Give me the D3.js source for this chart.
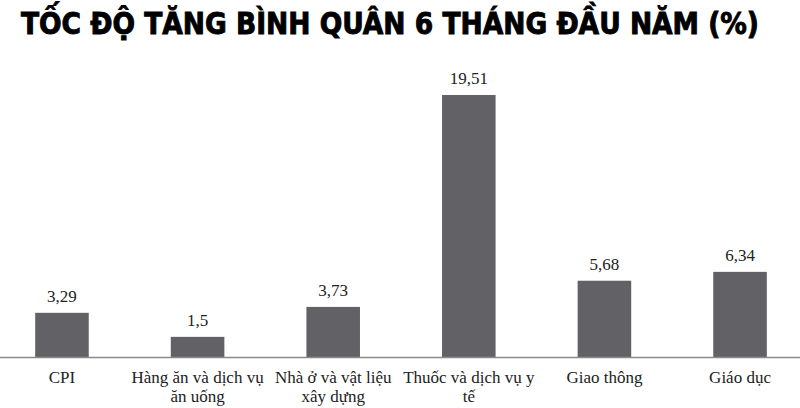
<!DOCTYPE html>
<html>
<head>
<meta charset="utf-8">
<script src="https://cdn.jsdelivr.net/npm/d3@7"></script>
<style>
  html, body { margin: 0; padding: 0; background: #fff; }
  svg { display: block; }
  .serif { font-family: 'Liberation Serif', 'Times New Roman', Times, 'DejaVu Serif', serif; }
</style>
</head>
<body>
<svg id="chart" width="800" height="408"></svg>
<script>
  'use strict';

  var title = 'TỐC ĐỘ TĂNG BÌNH QUÂN 6 THÁNG ĐẦU NĂM (%)';
  var categories = [
    'CPI',
    'Hàng ăn và dịch vụ ăn uống',
    'Nhà ở và vật liệu xây dựng',
    'Thuốc và dịch vụ y tế',
    'Giao thông',
    'Giáo dục'
  ];
  var values = [3.29, 1.5, 3.73, 19.51, 5.68, 6.34];
  var valueLabels = ['3,29', '1,5', '3,73', '19,51', '5,68', '6,34'];

  var baseline = 357;
  var plotTop = 95;

  var $svg = d3.select('#chart');

  // heavy condensed title, squeezed to the reference width
  $svg.append('text')
    .attr('x', 21)
    .attr('y', 34)
    .attr('textLength', 738)
    .attr('lengthAdjust', 'spacingAndGlyphs')
    .style('font-family', '"DejaVu Sans Condensed", "DejaVu Sans", sans-serif')
    .style('font-weight', 'bold')
    .style('font-size', '31px')
    .style('fill', '#000')
    .style('stroke', '#000')
    .style('stroke-width', 0.9)
    .text(title);

  var x = d3.scaleBand()
    .domain(categories)
    .range([-5.5, 807.5])
    .paddingInner(0.605)
    .paddingOuter(0.3);

  var y = d3.scaleLinear()
    .domain([0, d3.max(values)])
    .range([baseline, plotTop]);

  var data = categories.map(function(c, i) {
    return { cat: c, value: values[i], label: valueLabels[i] };
  });

  $svg.selectAll('rect.bar')
    .data(data)
    .enter()
    .append('rect')
    .attr('class', 'bar')
    .attr('x', function(d) { return x(d.cat); })
    .attr('y', function(d) { return y(d.value); })
    .attr('width', x.bandwidth())
    .attr('height', function(d) { return baseline - y(d.value); })
    .style('fill', '#626165');

  $svg.selectAll('text.value')
    .data(data)
    .enter()
    .append('text')
    .attr('class', 'value serif')
    .attr('x', function(d) { return x(d.cat) + x.bandwidth() / 2; })
    .attr('y', function(d) { return y(d.value) - 11; })
    .attr('text-anchor', 'middle')
    .style('font-size', '17px')
    .style('fill', '#222')
    .text(function(d) { return d.label; });

  var axis = d3.axisBottom(x).tickSize(0).tickPadding(0);

  var $axis = $svg.append('g')
    .attr('transform', 'translate(0,' + baseline + ')')
    .call(axis)
    .attr('font-family', null);

  $axis.select('.domain')
    .attr('stroke', '#8a8a8a')
    .attr('stroke-width', 1.5);

  $axis.selectAll('.tick text')
    .attr('class', 'serif')
    .style('font-size', '17px')
    .style('fill', '#222')
    .call(wrap, 136);

  function wrap(sel, maxWidth) {
    sel.each(function() {
      var $t = d3.select(this);
      var words = $t.text().split(/\s+/);
      var lines = [];
      var line = [];
      $t.text(null);
      var $probe = $t.append('tspan');
      words.forEach(function(w) {
        line.push(w);
        $probe.text(line.join(' '));
        if ($probe.node().getComputedTextLength() > maxWidth && line.length > 1) {
          line.pop();
          lines.push(line.join(' '));
          line = [w];
        }
      });
      lines.push(line.join(' '));
      $probe.remove();
      $t.attr('dy', null).attr('y', 26);
      lines.forEach(function(l, i) {
        $t.append('tspan')
          .attr('x', 0)
          .attr('dy', i === 0 ? 0 : 19)
          .text(l);
      });
    });
  }
</script>
</body>
</html>
